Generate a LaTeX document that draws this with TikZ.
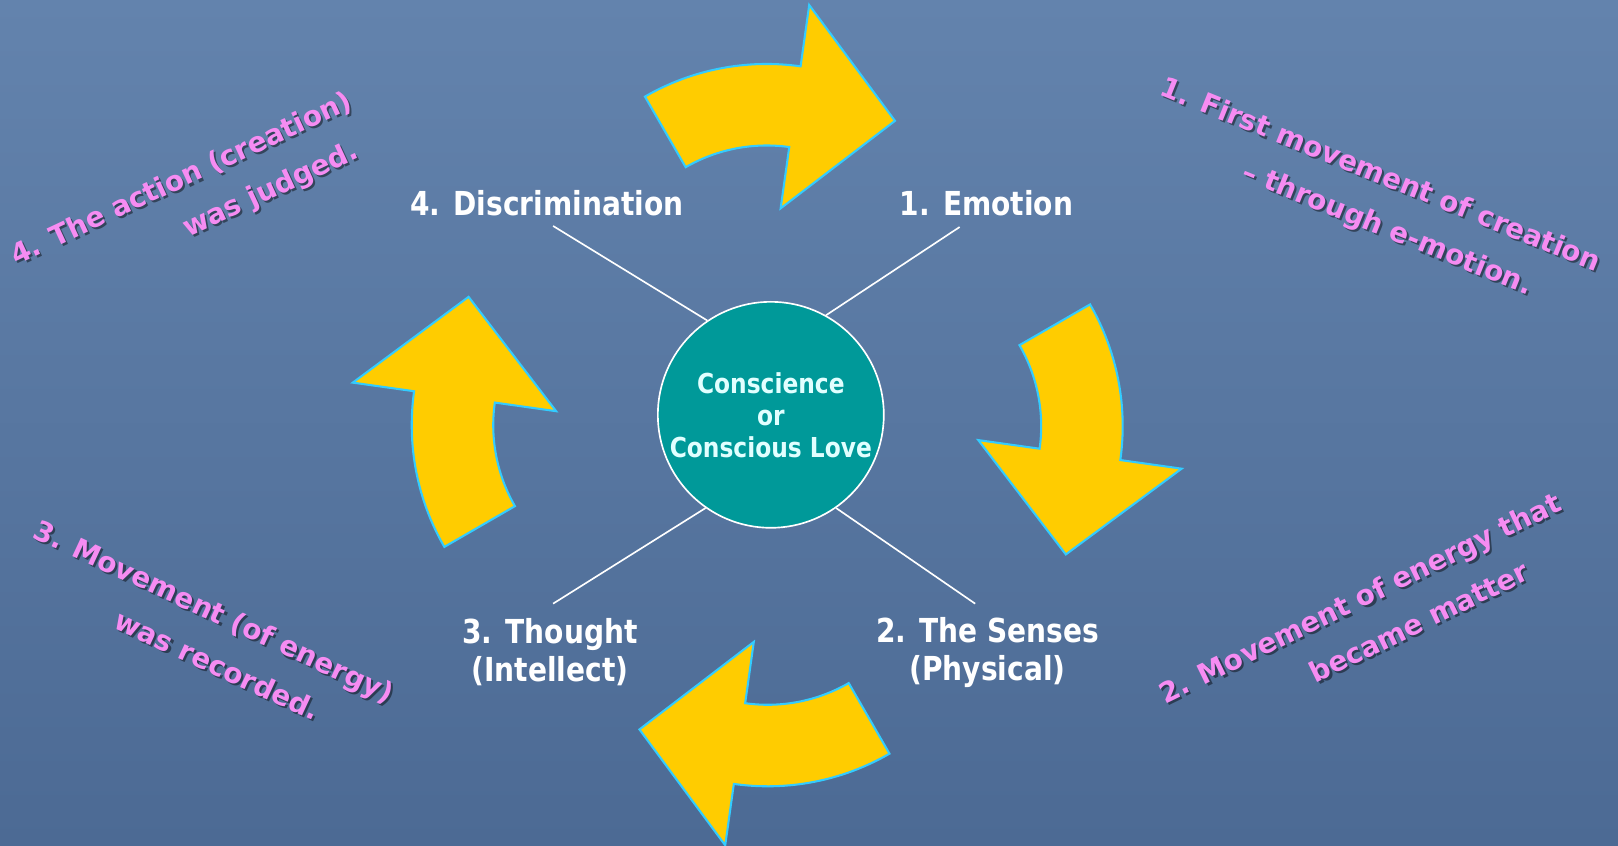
\documentclass[tikz,border=0pt]{standalone}
\usepackage{fontspec}
\newfontfamily\labelfont[FakeStretch=0.85]{DejaVu Sans}
\newfontfamily\notefont{DejaVu Sans}
\definecolor{slatetop}{RGB}{99,131,173}
\definecolor{slatebot}{RGB}{76,106,148}
\definecolor{corefill}{RGB}{0,153,153}
\definecolor{gold}{RGB}{255,204,0}
\definecolor{rim}{RGB}{51,204,255}
\definecolor{orchid}{RGB}{246,140,242}
\definecolor{mint}{RGB}{225,255,255}
\tikzset{
  >=latex,
  tag/.style={text=white,align=center,inner sep=0pt,
    font=\labelfont\bfseries\fontsize{16}{18.5}\selectfont},
  core/.style={circle,draw=white,line width=.8pt,fill=corefill,
    minimum size=109.5pt,inner sep=0pt,text=mint,align=center,
    font=\labelfont\bfseries\fontsize{13.3}{15.5}\selectfont},
  spoke/.style={draw=white,line width=.8pt},
  turn/.style={fill=gold,draw=rim,line width=1pt,line join=miter},
  note/.style={text=orchid,align=center,inner sep=0pt,
    font=\notefont\bfseries\fontsize{13.5}{23}\selectfont}
}
\newcommand{\castnote}[4]{%
  \node[note,text=black,text opacity=.45,xshift=1pt,yshift=-1pt,rotate=#3] at (#2) {#4};
  \node[note,rotate=#3] (#1) at (#2) {#4};}

\begin{document}
\begin{tikzpicture}[x=0.5pt,y=0.5pt]
  \useasboundingbox (0,0) rectangle (1568,819);
  \shade[top color=slatetop,bottom color=slatebot] (0,0) rectangle (1568,819);
  % the four bent arrows
  \foreach \ox/\oy/\rot in {743/521/0,852/406/-90,744/293/180,635/407/90}
    \filldraw[turn,shift={(\ox,\oy)},rotate=\rot] (120:236)
      arc[start angle=120,end angle=82,radius=236] -- (82:296)
      -- (55.5:219.5) -- (82:97) -- (82:157)
      arc[start angle=82,end angle=120,radius=157] -- cycle;
  \node[core] (core) at (747,417) {Conscience\\or\\Conscious Love};
  \node[tag] (emotion) at (956,622) {1. Emotion};
  \node[tag] (senses) at (957,187) {2. The Senses\\(Physical)};
  \node[tag] (thought) at (533,187) {3. Thought\\(Intellect)};
  \node[tag] (discern) at (530,622) {4. Discrimination};
  \coordinate (e1) at (930,599);
  \coordinate (e2) at (945,234);
  \coordinate (e3) at (536,234);
  \coordinate (e4) at (536,600);
  \draw[spoke] (core.61) -- (e1);
  \draw[spoke] (core.305) -- (e2);
  \draw[spoke] (core.235.5) -- (e3);
  \draw[spoke] (core.124.5) -- (e4);
  % pink side notes
  \castnote{first}{1329,627}{-22}{1. First movement of creation\\\hspace*{25.7pt}– through e-motion.}
  \castnote{matter}{1328,219}{26}{2. Movement of energy that\\\hspace*{41pt}became matter}
  \castnote{record}{198,206}{-25}{3. Movement (of energy)\\\hspace*{25pt}was recorded.}
  \castnote{judged}{186,624}{25}{4. The action (creation)\\\hspace*{74pt}was judged.}
\end{tikzpicture}
\end{document}
